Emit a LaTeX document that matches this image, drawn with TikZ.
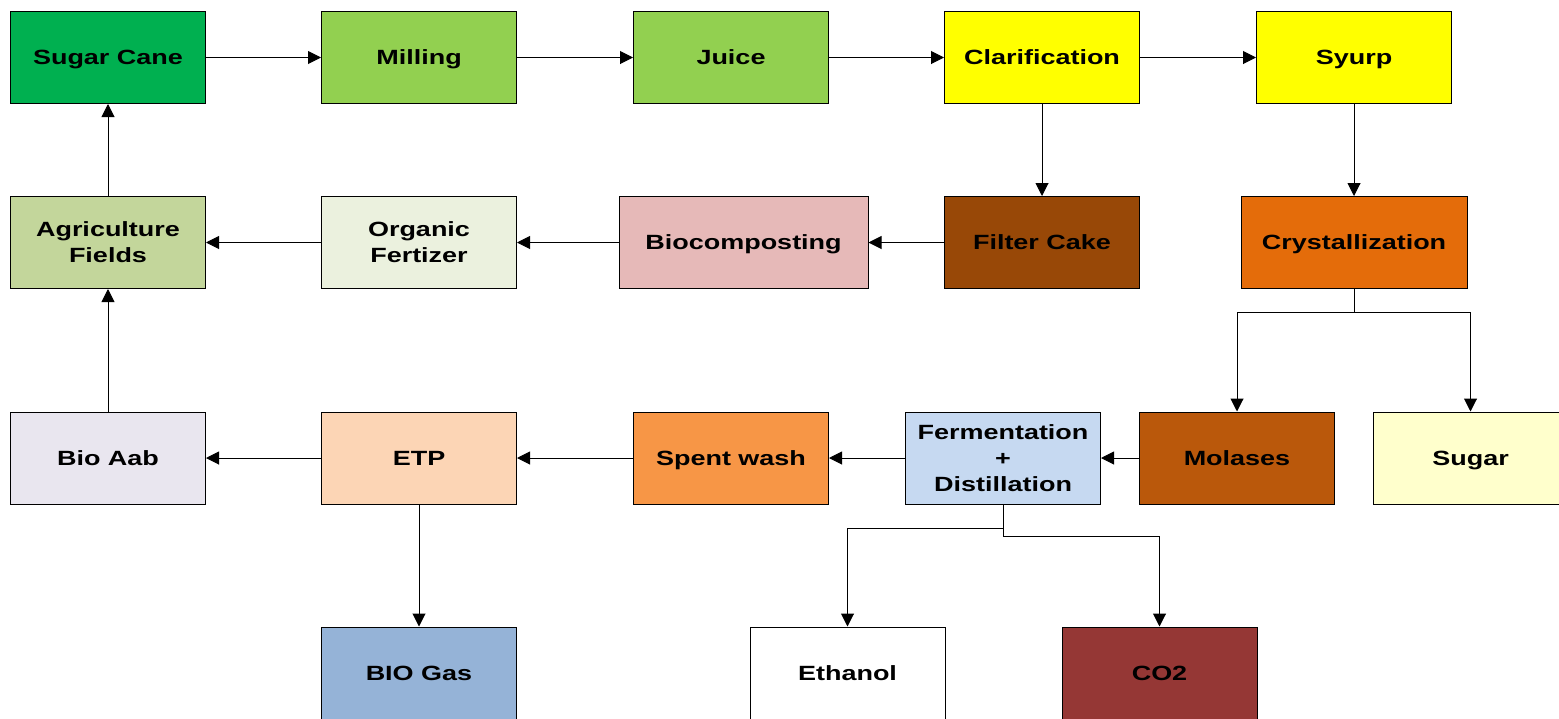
\documentclass[tikz,border=0pt]{standalone}
\usepackage{fontspec}
\usepackage{xcolor}
\usepackage{tikz}
\usetikzlibrary{arrows.meta}
\newfontfamily\boxfont{Liberation Sans}[FakeStretch=1.31]
\definecolor{caneGreen}{HTML}{00B050}
\definecolor{millGreen}{HTML}{92D050}
\definecolor{clarYellow}{HTML}{FFFF00}
\definecolor{fieldGreen}{HTML}{C3D69B}
\definecolor{fertGreen}{HTML}{EBF1DE}
\definecolor{compPink}{HTML}{E6B9B8}
\definecolor{cakeBrown}{HTML}{984807}
\definecolor{crystOrange}{HTML}{E46C0A}
\definecolor{aabLilac}{HTML}{E9E6EF}
\definecolor{etpPeach}{HTML}{FCD5B5}
\definecolor{washOrange}{HTML}{F79646}
\definecolor{fermBlue}{HTML}{C6D9F1}
\definecolor{molBrown}{HTML}{BA580B}
\definecolor{sugarCream}{HTML}{FFFFCC}
\definecolor{gasBlue}{HTML}{95B3D7}
\definecolor{coRed}{HTML}{953735}
\tikzstyle{every node}=[draw=black,line width=0.5pt,align=center,inner sep=0pt,minimum width=97.5pt,minimum height=46pt,text height=7.4pt,text depth=0pt,font=\boxfont\bfseries\fontsize{10.3}{13}\selectfont]
\tikzstyle{twolines}=[text height={},text depth={}]
\tikzstyle{arrow}=[draw=black,line width=0.5pt,-{Triangle[length=6.5pt,width=6.5pt]}]

\begin{document}
\begin{tikzpicture}[x=0.5pt,y=-0.5pt]
		\useasboundingbox (0,0) rectangle (1559,718);
		\node[fill=caneGreen] (cane) at (108,57.5) {Sugar Cane};
		\node[fill=millGreen] (mill) at (419,57.5) {Milling};
		\node[fill=millGreen] (juice) at (731,57.5) {Juice};
		\node[fill=clarYellow] (clar) at (1042,57.5) {Clarification};
		\node[fill=clarYellow] (syrup) at (1354,57.5) {Syurp};
		\node[fill=fieldGreen,twolines] (fields) at (108,242.5) {Agriculture\\Fields};
		\node[fill=fertGreen,twolines] (fert) at (419,242.5) {Organic\\Fertizer};
		\node[fill=compPink,minimum width=124.5pt] (comp) at (743.5,242.5) {Biocomposting};
		\node[fill=cakeBrown] (cake) at (1042,242.5) {Filter Cake};
		\node[fill=crystOrange,minimum width=113pt] (cryst) at (1354,242.5) {Crystallization};
		\node[fill=aabLilac] (aab) at (108,458) {Bio Aab};
		\node[fill=etpPeach] (etp) at (419,458) {ETP};
		\node[fill=washOrange] (wash) at (731,458) {Spent wash};
		\node[fill=fermBlue,twolines] (ferm) at (1003,458) {Fermentation\\+\\Distillation};
		\node[fill=molBrown] (mol) at (1237,458) {Molases};
		\node[fill=sugarCream] (sugar) at (1470.5,458) {Sugar};
		\node[fill=gasBlue] (gas) at (419,673) {BIO Gas};
		\node[fill=white] (eth) at (847.5,673) {Ethanol};
		\node[fill=coRed] (co2) at (1159.5,673) {CO2};
		\draw[arrow] (cane) -- (mill);
		\draw[arrow] (mill) -- (juice);
		\draw[arrow] (juice) -- (clar);
		\draw[arrow] (clar) -- (syrup);
		\draw[arrow] (clar) -- (cake);
		\draw[arrow] (syrup) -- (cryst);
		\draw[arrow] (cryst.south) -- ++(0,23) -| (mol.north);
		\draw[arrow] (cryst.south) -- ++(0,23) -| (sugar.north);
		\draw[arrow] (cake) -- (comp);
		\draw[arrow] (comp) -- (fert);
		\draw[arrow] (fert) -- (fields);
		\draw[arrow] (fields) -- (cane);
		\draw[arrow] (aab) -- (fields);
		\draw[arrow] (mol) -- (ferm);
		\draw[arrow] (ferm) -- (wash);
		\draw[arrow] (wash) -- (etp);
		\draw[arrow] (etp) -- (aab);
		\draw[arrow] (etp) -- (gas);
		\draw[arrow] (ferm.south) -- ++(0,24) -| (eth.north);
		\draw[arrow] (ferm.south) -- ++(0,32) -| (co2.north);
\end{tikzpicture}
\end{document}
